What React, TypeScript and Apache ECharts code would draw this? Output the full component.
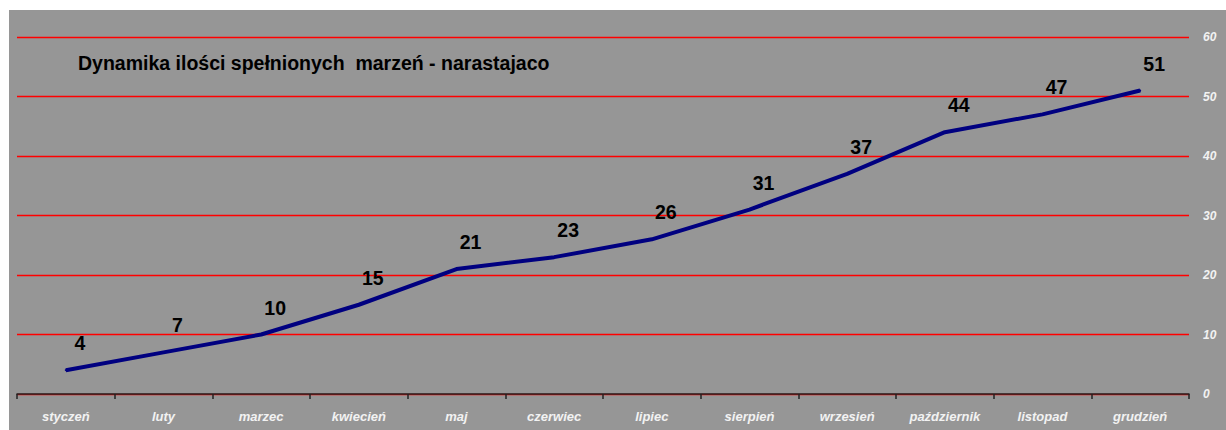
import React, { useEffect, useRef } from "react";
import * as echarts from "echarts";

const months = [
  "styczeń", "luty", "marzec", "kwiecień", "maj", "czerwiec",
  "lipiec", "sierpień", "wrzesień", "październik", "listopad", "grudzień",
];
const cumulative = [4, 7, 10, 15, 21, 23, 26, 31, 37, 44, 47, 51];
const yTicks = { min: 0, max: 60, interval: 10 };
const title = "Dynamika ilości spełnionych  marzeń - narastajaco";

export default function App() {
  const ref = useRef<HTMLDivElement>(null);
  useEffect(() => {
    if (!ref.current) return;
    const chart = echarts.init(ref.current, undefined, { renderer: "svg" });
    chart.setOption({
      animation: false,
      backgroundColor: "#969696",
      title: {
        text: title,
        left: 64,
        top: 38,
        textStyle: {
          fontFamily: "Liberation Sans, Arial, sans-serif",
          fontSize: 19.5,
          fontWeight: "bold",
          color: "#000",
        },
      },
      grid: { left: 8, right: 37, top: 27, bottom: 36 },
      xAxis: {
        type: "category",
        data: months,
        boundaryGap: true,
        axisLine: { show: true, lineStyle: { color: "#222", width: 1.5 } },
        axisTick: { show: true, length: 5, lineStyle: { color: "#222", width: 1.5 } },
        axisLabel: {
          color: "#f2f2f2",
          fontStyle: "italic",
          fontWeight: "bold",
          fontSize: 13,
          fontFamily: "Liberation Sans, Arial, sans-serif",
          margin: 16,
          interval: 0,
        },
        splitLine: { show: false },
      },
      yAxis: {
        type: "value",
        position: "right",
        min: yTicks.min,
        max: yTicks.max,
        interval: yTicks.interval,
        axisLine: { show: false },
        axisTick: { show: false },
        axisLabel: {
          color: "#f2f2f2",
          fontStyle: "italic",
          fontWeight: "bold",
          fontSize: 12,
          fontFamily: "Liberation Sans, Arial, sans-serif",
          margin: 14,
        },
        splitLine: {
          show: true,
          lineStyle: { color: "#ff0000", width: 1.3 },
        },
      },
      series: [
        {
          type: "line",
          data: cumulative,
          symbol: "circle",
          symbolSize: 2,
          showSymbol: true,
          itemStyle: { color: "#000080", borderWidth: 0 },
          lineStyle: { color: "#000080", width: 4 },
          label: {
            show: true,
            position: "top",
            distance: 0,
            color: "#000",
            fontSize: 19.5,
            fontWeight: "bold",
            fontFamily: "Liberation Sans, Arial, sans-serif",
          },
          labelLayout: { hideOverlap: false, dx: 14, dy: -16 },
          z: 5,
        },
      ],
    });
    return () => chart.dispose();
  }, []);
  return (
    <div
      style={{
        position: "absolute",
        left: 0,
        top: 0,
        width: 1226,
        height: 430,
        background: "#fff",
      }}
    >
      <div
        ref={ref}
        style={{ position: "absolute", left: 9, top: 10, width: 1217, height: 420 }}
      />
    </div>
  );
}
